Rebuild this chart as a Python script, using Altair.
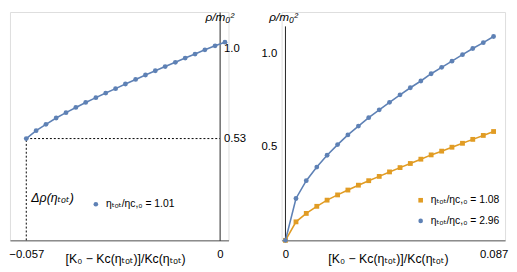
import altair as alt
import pandas as pd

# ---------------- data ----------------
# Left panel: eta_tot/eta_c,0 = 1.01
left_x = [-0.057, -0.0541, -0.0512, -0.0482, -0.0453, -0.0424, -0.0395, -0.0365,
          -0.0336, -0.0307, -0.0278, -0.0248, -0.0219, -0.0190, -0.0161, -0.0131,
          -0.0102, -0.0073, -0.0044, -0.0014, 0.0015]
left_rho = [0.530, 0.571, 0.604, 0.637, 0.665, 0.692, 0.718, 0.743, 0.767, 0.790,
            0.814, 0.838, 0.861, 0.883, 0.905, 0.927, 0.949, 0.970, 0.992, 1.013, 1.032]

# Right panel
right_x = [0.0, 0.0044, 0.0087, 0.0131, 0.0174, 0.0218, 0.0261, 0.0305, 0.0348,
           0.0392, 0.0435, 0.0479, 0.0522, 0.0566, 0.0609, 0.0653, 0.0696, 0.0740,
           0.0783, 0.0827, 0.087]
right_rho_108 = [0.0, 0.099, 0.144, 0.182, 0.215, 0.243, 0.269, 0.295, 0.319, 0.342,
                 0.366, 0.389, 0.411, 0.434, 0.457, 0.477, 0.498, 0.519, 0.540, 0.561, 0.582]
right_rho_296 = [0.0, 0.224, 0.319, 0.392, 0.455, 0.512, 0.564, 0.611, 0.656, 0.698,
                 0.738, 0.778, 0.816, 0.852, 0.891, 0.925, 0.958, 0.993, 1.026, 1.057, 1.090]

left_xticks = [-0.057, 0]
left_yticks = [0.53, 1.0]
right_xticks = [0, 0.087]
right_yticks = [0.5, 1.0]

label_101 = "ηₜₒₜ/ηc,₀ = 1.01"
label_108 = "ηₜₒₜ/ηc,₀ = 1.08"
label_296 = "ηₜₒₜ/ηc,₀ = 2.96"
x_title = "[K₀ − Kc(ηₜₒₜ)]/Kc(ηₜₒₜ)"
y_title = "ρ/m₀²"
delta_label = "Δρ(ηₜₒₜ)"

# dashed guide lines (left panel)
delta_x0 = -0.057
rho_min = 0.53

# ---------------- styling ----------------
BLUE = "#5E81B5"
ORANGE = "#E19C24"
FONT = "Liberation Sans, DejaVu Sans, sans-serif"
W1, W2, H = 222, 227, 232

left_df = pd.DataFrame({"x": left_x, "y": left_rho, "series": label_101})
right_df = pd.concat([
    pd.DataFrame({"x": right_x, "y": right_rho_108, "series": label_108}),
    pd.DataFrame({"x": right_x, "y": right_rho_296, "series": label_296}),
])

common_axis = dict(grid=False, ticks=False, labelFont=FONT, labelFontSize=11.5,
                   labelColor="black", titleFont=FONT, titleFontSize=12.5,
                   titleColor="black", titleFontWeight="normal")

x_label_expr = "datum.value == 0 ? '0' : format(datum.value, '.3f')"


def make_legend(x, y):
    return alt.Legend(orient="none", legendX=x, legendY=y, title=None,
                      labelFont=FONT, labelFontSize=10.5, labelColor="black",
                      symbolSize=22, labelOffset=5, rowPadding=10, symbolStrokeWidth=0)


# ---------- left panel ----------
lx = alt.X("x:Q",
           scale=alt.Scale(domain=[-0.0618, 0.00254], nice=False, zero=False),
           axis=alt.Axis(values=left_xticks, labelExpr=x_label_expr, title=x_title,
                         domainColor="#8c8c8c", domainWidth=1.5,
                         labelPadding=8, titleX=117, titleY=22,
                         titleBaseline="alphabetic", **common_axis))
ly = alt.Y("y:Q",
           scale=alt.Scale(domain=[0, 1.189], nice=False),
           axis=alt.Axis(values=left_yticks, orient="right", offset=-9,
                         labelExpr="datum.value == 1 ? '1.0' : format(datum.value, '.2f')",
                         domainColor="#222222", domainWidth=1, labelPadding=4,
                         title=None, **common_axis))

leg_l = make_legend(82, 190)
color_l = alt.Scale(domain=[label_101], range=[BLUE])
shape_l = alt.Scale(domain=[label_101], range=["circle"])

l_line = alt.Chart(left_df).mark_line(strokeWidth=1.6).encode(
    x=lx, y=ly, color=alt.Color("series:N", scale=color_l, legend=leg_l))
l_pts = alt.Chart(left_df).mark_point(filled=True, size=24, opacity=1).encode(
    x=lx, y=ly,
    color=alt.Color("series:N", scale=color_l, legend=leg_l),
    shape=alt.Shape("series:N", scale=shape_l, legend=leg_l))
h_dash = alt.Chart(pd.DataFrame({"x": [delta_x0], "x2": [0.0], "y": [rho_min]})).mark_rule(
    strokeDash=[2, 2], color="black", strokeWidth=1).encode(x=lx, x2="x2:Q", y=ly)
v_dash = alt.Chart(pd.DataFrame({"x": [delta_x0], "y": [0.0], "y2": [rho_min]})).mark_rule(
    strokeDash=[2, 2], color="black", strokeWidth=1).encode(x=lx, y=ly, y2="y2:Q")
l_delta = alt.Chart(pd.DataFrame({"x": [-0.0555], "y": [0.219], "t": [delta_label]})).mark_text(
    align="left", baseline="middle", font=FONT, fontSize=12.5, fontStyle="italic",
    color="black").encode(x=lx, y=ly, text="t:N")
l_ytitle = alt.Chart(pd.DataFrame({"x": [0.0], "y": [1.165], "t": [y_title]})).mark_text(
    align="center", baseline="middle", font=FONT, fontSize=12, fontStyle="italic",
    color="black").encode(x=lx, y=ly, text="t:N")

left = alt.layer(h_dash, v_dash, l_line, l_pts, l_delta, l_ytitle).properties(width=W1, height=H)

# ---------- right panel ----------
rx = alt.X("x:Q",
           scale=alt.Scale(domain=[-0.0016, 0.0918], nice=False, zero=False),
           axis=alt.Axis(values=right_xticks, labelExpr=x_label_expr, title=x_title,
                         domainColor="#8c8c8c", domainWidth=1.5,
                         labelPadding=8, titleX=108, titleY=22,
                         titleBaseline="alphabetic", **common_axis))
ry = alt.Y("y:Q",
           scale=alt.Scale(domain=[0, 1.221], nice=False),
           axis=alt.Axis(values=right_yticks, orient="left", offset=-4, format=".1f",
                         domain=False, labelPadding=9, title=None, **common_axis))

color_r = alt.Scale(domain=[label_108, label_296], range=[ORANGE, BLUE])
shape_r = alt.Scale(domain=[label_108, label_296], range=["square", "circle"])
leg_r = make_legend(136, 186)

r_axis = alt.Chart(pd.DataFrame({"x": [0.0], "y": [0.0], "y2": [1.144]})).mark_rule(
    color="#222222", strokeWidth=1).encode(x=rx, y=ry, y2="y2:Q")
r_line = alt.Chart(right_df).mark_line(strokeWidth=1.6).encode(
    x=rx, y=ry, color=alt.Color("series:N", scale=color_r, legend=leg_r))
r_pts = alt.Chart(right_df).mark_point(filled=True, size=24, opacity=1).encode(
    x=rx, y=ry,
    color=alt.Color("series:N", scale=color_r, legend=leg_r),
    shape=alt.Shape("series:N", scale=shape_r, legend=leg_r))
r_ytitle = alt.Chart(pd.DataFrame({"x": [-0.0008], "y": [1.195], "t": [y_title]})).mark_text(
    align="center", baseline="middle", font=FONT, fontSize=12, fontStyle="italic",
    color="black").encode(x=rx, y=ry, text="t:N")

right = alt.layer(r_axis, r_line, r_pts, r_ytitle).properties(width=W2, height=H)

chart = alt.hconcat(left, right, spacing=14).resolve_scale(
    x="independent", y="independent", color="independent", shape="independent"
).properties(padding=0).configure_view(stroke=None).configure(font=FONT)

chart.save("out.html", embed_options={"renderer": "svg", "actions": False})
